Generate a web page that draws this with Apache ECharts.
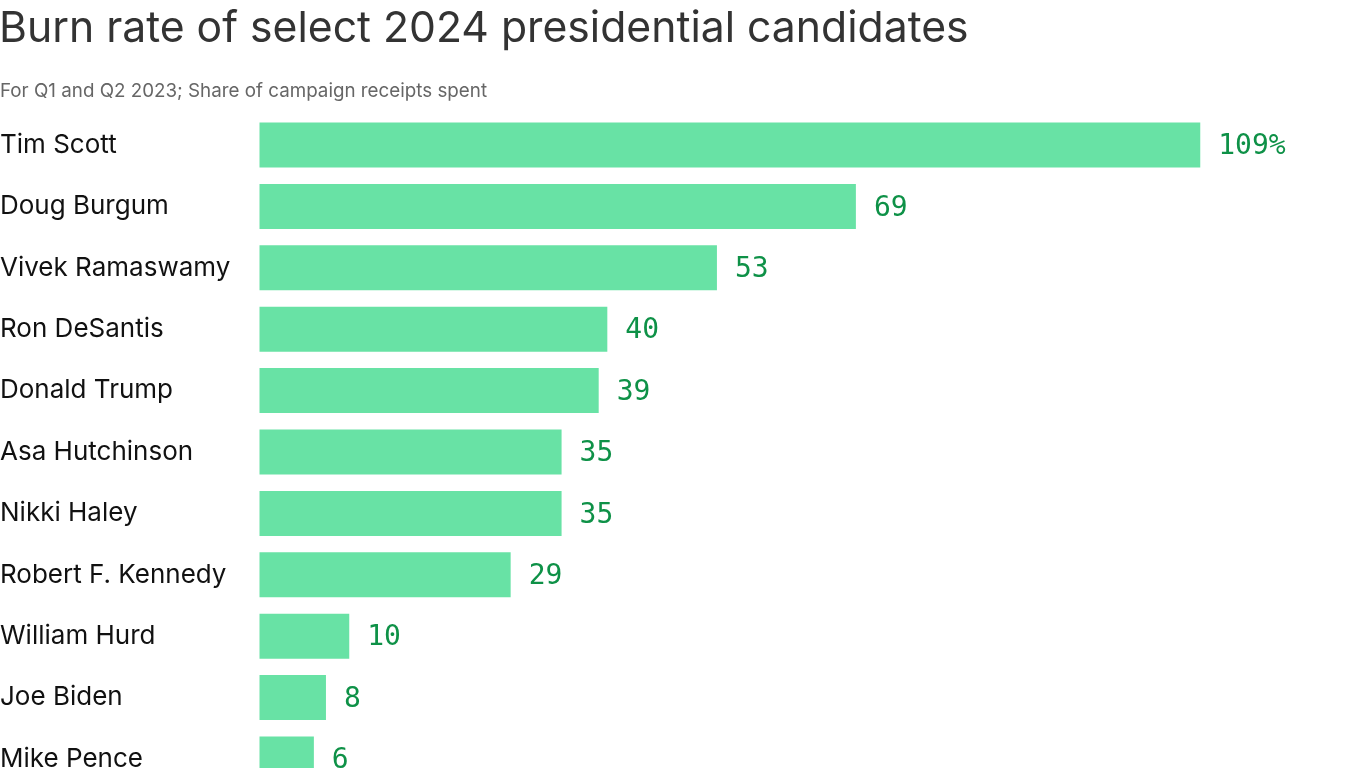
<!DOCTYPE html>
<html>
<head>
<meta charset="utf-8">
<script src="https://cdn.jsdelivr.net/npm/echarts@6/dist/echarts.min.js"></script>
<style>
html,body{margin:0;padding:0;background:#fff;overflow:hidden;}
#chart{width:1366px;height:800px;}
</style>
</head>
<body>
<div id="chart"></div>
<script>
const titleText = "Burn rate of select 2024 presidential candidates";
const subtitleText = "For Q1 and Q2 2023; Share of campaign receipts spent";
const candidates = ["Tim Scott","Doug Burgum","Vivek Ramaswamy","Ron DeSantis","Donald Trump","Asa Hutchinson","Nikki Haley","Robert F. Kennedy","William Hurd","Joe Biden","Mike Pence"];
const burnRate = [109, 69.1, 53.0, 40.3, 39.3, 35.0, 35.0, 29.1, 10.4, 7.7, 6.3];

const chart = echarts.init(document.getElementById('chart'), null, {renderer:'canvas'});
chart.setOption({
  backgroundColor:'#ffffff',
  animation:false,
  title:[
    {text:titleText, left:-1, top:8, padding:0, textStyle:{fontFamily:'Inter', fontSize:42.7, fontWeight:'normal', color:'#333333'}},
    {text:subtitleText, left:0, top:82, padding:0, textStyle:{fontFamily:'Inter', fontSize:18.8, fontWeight:'normal', color:'#666666'}}
  ],
  grid:{left:259.5, right:70.8, top:114.3, bottom:10.3, containLabel:false, outerBoundsMode:'none'},
  xAxis:{type:'value', min:0, max:120, show:false},
  yAxis:{
    type:'category', data:candidates, inverse:true,
    axisLine:{show:false}, axisTick:{show:false}, splitLine:{show:false},
    axisLabel:{align:'left', margin:259.5, fontFamily:'Inter', fontSize:26, color:'#111111'}
  },
  series:[{
    type:'bar', data:burnRate, barWidth:45,
    itemStyle:{color:'#68e2a5'},
    label:{show:true, position:'right', distance:18, offset:[0,2], fontFamily:'DejaVu Sans Mono', fontSize:28, color:'#0e9147',
      formatter:p => Math.round(p.value) + (p.dataIndex===0 ? '%' : '')}
  }]
});
</script>
</body>
</html>
